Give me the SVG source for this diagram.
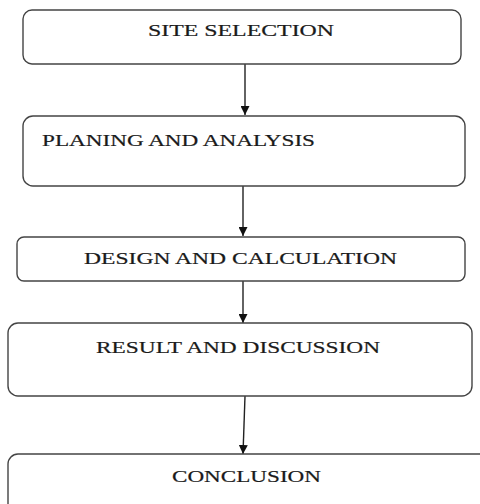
<svg xmlns="http://www.w3.org/2000/svg" width="480" height="504" viewBox="0 0 480 504">
<defs>
<marker id="ah" markerWidth="9" markerHeight="9" refX="9" refY="4.5" orient="auto" markerUnits="userSpaceOnUse">
<path d="M0,0 L9,4.5 L0,9 z" fill="#111"/>
</marker>
<style>
.box{fill:#fff;stroke:#444;stroke-width:1.4}
.lbl{font-family:"Liberation Serif","Times New Roman",serif;font-size:17px;fill:#1a1a1a;stroke:#1a1a1a;stroke-width:0.2}
.con{stroke:#222;stroke-width:1.4;fill:none;marker-end:url(#ah)}
</style>
</defs>
<rect width="480" height="504" fill="#fff"/>
<g id="connectors">
<line class="con" x1="245" y1="64" x2="245" y2="115"/>
<line class="con" x1="243" y1="186" x2="243" y2="236"/>
<line class="con" x1="243" y1="281" x2="243" y2="323"/>
<line class="con" x1="245" y1="396" x2="243" y2="454"/>
</g>
<g id="site-selection">
<rect class="box" x="23" y="10" width="438" height="54" rx="9"/>
<text class="lbl" x="148" y="36" textLength="186" lengthAdjust="spacingAndGlyphs">SITE SELECTION</text>
</g>
<g id="planning-analysis">
<rect class="box" x="23" y="116" width="442" height="70" rx="10"/>
<text class="lbl" x="42" y="145.5" textLength="273" lengthAdjust="spacingAndGlyphs">PLANING AND ANALYSIS</text>
</g>
<g id="design-calculation">
<rect class="box" x="17" y="237" width="448" height="44" rx="7"/>
<text class="lbl" x="84" y="264" textLength="313" lengthAdjust="spacingAndGlyphs">DESIGN AND CALCULATION</text>
</g>
<g id="result-discussion">
<rect class="box" x="8" y="323" width="464" height="73" rx="10"/>
<text class="lbl" x="96" y="352.5" textLength="284" lengthAdjust="spacingAndGlyphs">RESULT AND DISCUSSION</text>
</g>
<g id="conclusion">
<rect class="box" x="8" y="454" width="490" height="70" rx="10"/>
<text class="lbl" x="172" y="482" textLength="149" lengthAdjust="spacingAndGlyphs">CONCLUSION</text>
</g>
</svg>
